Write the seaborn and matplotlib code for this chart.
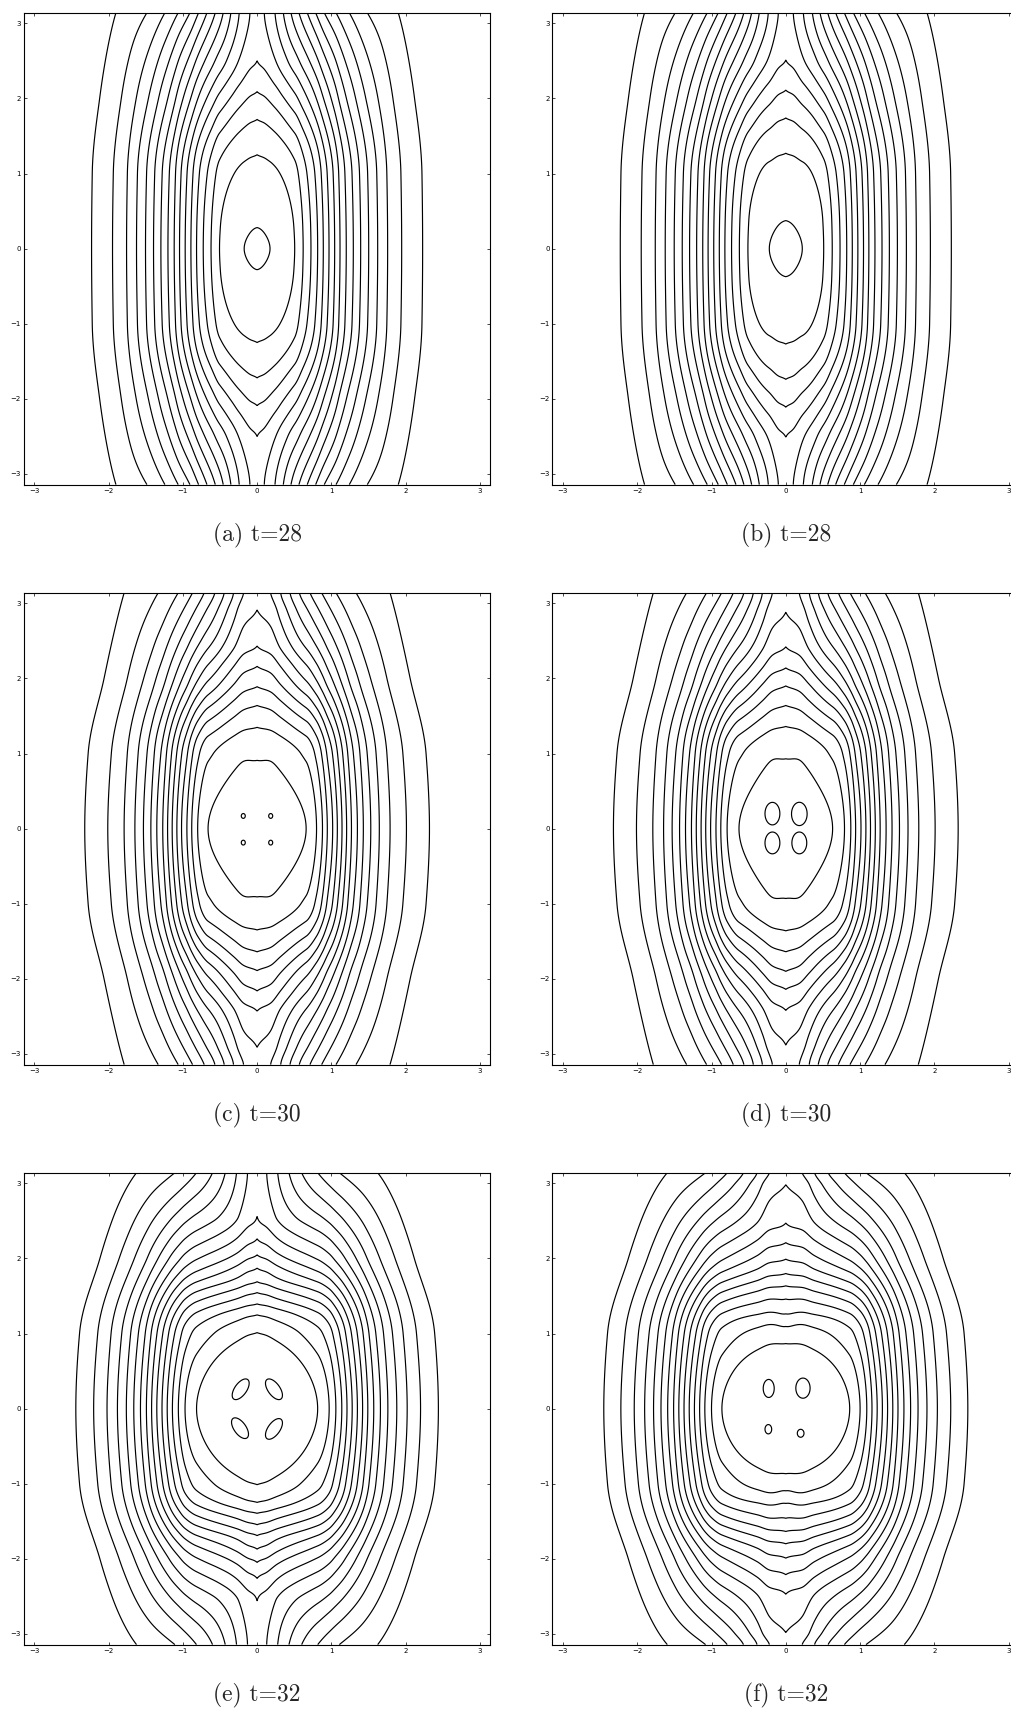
import numpy as np
import matplotlib
matplotlib.use("Agg")
import matplotlib.pyplot as plt
import seaborn as sns

# ---------------------------------------------------------------------------
# Values (data units). Every panel is symmetric about
# x=0 and y=0, so only the right / upper half is listed.
#   x0_*   : where each contour crosses y=0, centre outwards
#   xpi_*  : where the open contours cross the top edge (y=pi)
#   tips_* : height where each closed contour crosses x=0
#   bulge_*: share of the in-swing of the outermost line reached at y=1, y=2
# ---------------------------------------------------------------------------
captions = ["(a) t=28", "(b) t=28", "(c) t=30", "(d) t=30", "(e) t=32", "(f) t=32"]

x0_a = [0.174, 0.506, 0.62, 0.725, 0.815, 0.891, 0.968, 1.044, 1.116, 1.20,
        1.295, 1.394, 1.502, 1.623, 1.757, 1.946, 2.228]
xpi_a = [0.097, 0.241, 0.353, 0.456, 0.563, 0.675, 0.788, 0.904, 1.062,
         1.241, 1.483, 1.900]
tips_a = [0.28, 1.25, 1.72, 2.09, 2.50]
bulge_a = [0.04, 0.41]

x0_b = [0.222, 0.51, 0.625, 0.73, 0.82, 0.895, 0.97, 1.046, 1.118, 1.20,
        1.295, 1.394, 1.502, 1.623, 1.757, 1.946, 2.228]
xpi_b = [0.101, 0.236, 0.357, 0.460, 0.564, 0.671, 0.787, 0.909, 1.057,
         1.241, 1.488, 1.901]
tips_b = [0.373, 1.27, 1.74, 2.11, 2.51]
bulge_b = [0.04, 0.41]

x0_c = [0.66, 0.80, 0.88, 0.945, 1.017, 1.08, 1.143, 1.205, 1.27, 1.35,
        1.43, 1.53, 1.645, 1.79, 2.01, 2.32]
xpi_c = [0.183, 0.318, 0.443, 0.568, 0.712, 0.869, 1.062, 1.331, 1.789]
tips_c = [1.00, 1.36, 1.64, 1.89, 2.16, 2.43, 2.91]
bulge_c = [0.12, 0.58]

x0_d = [0.63, 0.79, 0.875, 0.94, 1.012, 1.078, 1.14, 1.205, 1.27, 1.35,
        1.43, 1.53, 1.645, 1.79, 2.01, 2.32]
xpi_d = [0.182, 0.316, 0.437, 0.564, 0.707, 0.864, 1.066, 1.335, 1.783]
tips_d = [1.03, 1.37, 1.64, 1.90, 2.14, 2.42, 2.88]
bulge_d = [0.12, 0.58]

x0_e = [0.815, 0.97, 1.06, 1.14, 1.21, 1.28, 1.35, 1.42, 1.49, 1.57, 1.66,
        1.76, 1.88, 2.02, 2.20, 2.44]
xpi_e = [0.129, 0.277, 0.429, 0.600, 0.816, 1.107, 1.623]
tips_e = [1.012, 1.248, 1.394, 1.545, 1.69, 1.87, 2.047, 2.26, 2.557]
bulge_e = [0.12, 0.60]

x0_f = [0.86, 1.00, 1.09, 1.16, 1.23, 1.30, 1.37, 1.44, 1.51, 1.59, 1.68,
        1.78, 1.90, 2.04, 2.22, 2.45]
xpi_f = [0.222, 0.388, 0.570, 0.789, 1.080, 1.595]
tips_f = [0.89, 1.14, 1.30, 1.48, 1.64, 1.80, 1.99, 2.21, 2.47, 2.98]
bulge_f = [0.12, 0.60]

# field value at the centre, gap between the top-centre value and the first
# open contour (contour-index units), half width of the core region and how
# sharp the ridge along x=0 at the top edge is
centre_lv = [-0.05, -0.05, -0.7, -0.7, -2.0, -2.0]
saddle_gap = [0.3, 0.3, 0.5, 0.5, 0.5, 0.5]
core_w = [0.6, 0.6, 0.6, 0.6, 0.6, 0.6]
ridge = [1.3, 1.3, 1.5, 1.5, 1.5, 1.5]

# small vortex islands: centre x, centre y, half widths, tilt (deg)
isl_x_c, isl_y_c = [-0.186, 0.183, -0.186, 0.183], [0.169, 0.169, -0.186, -0.186]
isl_rx_c, isl_ry_c, isl_ang_c = [0.027] * 4, [0.032] * 4, [0, 0, 0, 0]

isl_x_d, isl_y_d = [-0.18, 0.182, -0.18, 0.182], [0.20, 0.196, -0.19, -0.19]
isl_rx_d, isl_ry_d, isl_ang_d = [0.10, 0.105, 0.10, 0.10], [0.15, 0.155, 0.145, 0.145], [0, 0, 0, 0]

isl_x_e, isl_y_e = [-0.221, 0.227, -0.23, 0.227], [0.258, 0.258, -0.26, -0.27]
isl_rx_e, isl_ry_e, isl_ang_e = [0.16] * 4, [0.08] * 4, [54, -54, -54, 54]

isl_x_f, isl_y_f = [-0.23, 0.231, -0.235, 0.20], [0.269, 0.273, -0.274, -0.328]
isl_rx_f, isl_ry_f, isl_ang_f = [0.074, 0.096, 0.045, 0.045], [0.12, 0.134, 0.062, 0.053], [0, 0, 0, 0]

# dents of the inner contours on the x=0 axis: amplitude, |y| centre, x and y widths
dent_c = (0.15, 1.05, 0.15, 0.25)
dent_d = (0.15, 1.05, 0.15, 0.25)
dent_f = (0.25, 1.20, 0.12, 0.30)

N_GRID = 1201
gx = np.linspace(-np.pi, np.pi, N_GRID)
gy = np.linspace(-np.pi, np.pi, N_GRID)
GX, GY = np.meshgrid(gx, gy)


def pchip(xk, yk, x, m_start=None):
    """Monotone cubic interpolation (Fritsch-Carlson)."""
    xk = np.asarray(xk, float)
    yk = np.asarray(yk, float)
    h = np.diff(xk)
    d = np.diff(yk) / h
    m = np.zeros_like(yk)
    for i in range(1, len(xk) - 1):
        if d[i - 1] * d[i] > 0:
            w1 = 2 * h[i] + h[i - 1]
            w2 = h[i] + 2 * h[i - 1]
            m[i] = (w1 + w2) / (w1 / d[i - 1] + w2 / d[i])

    def end(h0, h1, d0, d1):
        mm = ((2 * h0 + h1) * d0 - h0 * d1) / (h0 + h1)
        if np.sign(mm) != np.sign(d0):
            mm = 0.0
        elif np.sign(d0) != np.sign(d1) and abs(mm) > abs(3 * d0):
            mm = 3 * d0
        return mm

    m[0] = end(h[0], h[1], d[0], d[1]) if m_start is None else m_start * d[0]
    m[-1] = end(h[-1], h[-2], d[-1], d[-2])
    idx = np.clip(np.searchsorted(xk, x) - 1, 0, len(h) - 1)
    t = (x - xk[idx]) / h[idx]
    return ((2 * t**3 - 3 * t**2 + 1) * yk[idx] + (t**3 - 2 * t**2 + t) * h[idx] * m[idx]
            + (-2 * t**3 + 3 * t**2) * yk[idx + 1] + (t**3 - t**2) * h[idx] * m[idx + 1])


def extend(xs, vals, x_end=3.8):
    xs = np.asarray(xs, float)
    vals = np.asarray(vals, float)
    slope = (vals[-1] - vals[-2]) / (xs[-1] - xs[-2])
    return np.r_[xs, x_end], np.r_[vals, vals[-1] + slope * (x_end - xs[-1])]


def weight_along_y(ys, ws, flat_top=True):
    """0 on y=0, 1 on y=+-pi, through (ys, ws)."""
    ys = np.asarray(ys, float)
    ws = np.asarray(ws, float)
    if flat_top:
        pos = np.r_[0.0, ys, np.pi, 2 * np.pi - ys[::-1]]
        val = np.r_[0.0, ws, 1.0, ws[::-1]]
    else:
        pos = np.r_[0.0, ys, np.pi]
        val = np.r_[0.0, ws, 1.0]
    return pchip(np.r_[-pos[:0:-1], pos], np.r_[val[:0:-1], val], gy)


def panel_field(x0, xpi, tips, bulge, centre, gap, core, sharp):
    n_closed = len(tips)
    lv = np.arange(len(x0), dtype=float)
    saddle = n_closed - gap
    # profile along y=0: smooth peak at x=0
    kx, kv = extend(x0, lv)
    p0 = pchip(np.r_[-kx[::-1], 0.0, kx], np.r_[kv[::-1], centre, kv], gx)
    # profile along y=pi: a ridge on x=0
    kx, kv = extend(xpi, lv[n_closed:])
    ppi = pchip(np.r_[0.0, kx], np.r_[saddle, kv], np.abs(gx), m_start=sharp)
    w_core = weight_along_y(tips, (lv[:n_closed] - centre) / (saddle - centre))
    w_out = weight_along_y([1.0, 2.0], bulge, flat_top=False)
    m = 1 - np.exp(-(gx / core) ** 2)
    w = w_core[:, None] * (1 - m[None, :]) + w_out[:, None] * m[None, :]
    return (1 - w) * p0[None, :] + w * ppi[None, :]


def island_field(xs, ys, rx, ry, ang):
    q = np.full(GX.shape, 99.0)
    for cx, cy, a, b, th in zip(xs, ys, rx, ry, ang):
        th = np.deg2rad(th)
        dx, dy = GX - cx, GY - cy
        u = dx * np.cos(th) + dy * np.sin(th)
        v = -dx * np.sin(th) + dy * np.cos(th)
        q = np.minimum(q, (u / a) ** 2 + (v / b) ** 2)
    return q


def dent(amp, yc, sx, sy):
    return amp * np.exp(-(GX / sx) ** 2) * np.exp(-((np.abs(GY) - yc) / sy) ** 2)


panels = [
    (x0_a, xpi_a, tips_a, bulge_a, None, None),
    (x0_b, xpi_b, tips_b, bulge_b, None, None),
    (x0_c, xpi_c, tips_c, bulge_c, (isl_x_c, isl_y_c, isl_rx_c, isl_ry_c, isl_ang_c), dent_c),
    (x0_d, xpi_d, tips_d, bulge_d, (isl_x_d, isl_y_d, isl_rx_d, isl_ry_d, isl_ang_d), dent_d),
    (x0_e, xpi_e, tips_e, bulge_e, (isl_x_e, isl_y_e, isl_rx_e, isl_ry_e, isl_ang_e), None),
    (x0_f, xpi_f, tips_f, bulge_f, (isl_x_f, isl_y_f, isl_rx_f, isl_ry_f, isl_ang_f), dent_f),
]

sns.set_theme(style="ticks", rc={
    "xtick.direction": "in", "ytick.direction": "in",
    "xtick.top": True, "ytick.right": True,
    "xtick.major.size": 2.2, "ytick.major.size": 2.2,
    "xtick.major.width": 0.5, "ytick.major.width": 0.5,
    "xtick.major.pad": 2.5, "ytick.major.pad": 2.0,
    "xtick.labelsize": 5, "ytick.labelsize": 5,
    "axes.linewidth": 0.8, "axes.edgecolor": "black",
    "xtick.color": "black", "ytick.color": "black",
})
plt.rcParams["font.family"] = ["DejaVu Sans"]

W_PX, H_PX = 1012, 1709
col_left = [23.7, 552.4]
row_top = [12.7, 592.7, 1172.7]
ax_w, ax_h = 466.8, 471.9

fig = plt.figure(figsize=(W_PX / 100, H_PX / 100), dpi=100)
for i, (x0, xpi, tips, bulge, isl, dn) in enumerate(panels):
    r, c = divmod(i, 2)
    ax = fig.add_axes([col_left[c] / W_PX, 1 - (row_top[r] + ax_h) / H_PX,
                       ax_w / W_PX, ax_h / H_PX])
    F = panel_field(x0, xpi, tips, bulge, centre_lv[i], saddle_gap[i], core_w[i], ridge[i])
    if dn is not None:
        F = F + dent(*dn)
    ax.contour(gx, gy, F, levels=np.arange(len(x0)), colors="black", linewidths=0.85)
    if isl is not None:
        ax.contour(gx, gy, island_field(*isl), levels=[1.0], colors="black", linewidths=0.85)
    ax.set_xlim(-np.pi, np.pi)
    ax.set_ylim(-np.pi, np.pi)
    ax.set_xticks(range(-3, 4))
    ax.set_yticks(range(-3, 4))
    ax.grid(False)
    fig.text((col_left[c] + ax_w / 2) / W_PX, 1 - (row_top[r] + 522.3) / H_PX, captions[i],
             ha="center", va="center", fontfamily="cmr10", fontsize=17)

fig.savefig("out.png", dpi=100)
